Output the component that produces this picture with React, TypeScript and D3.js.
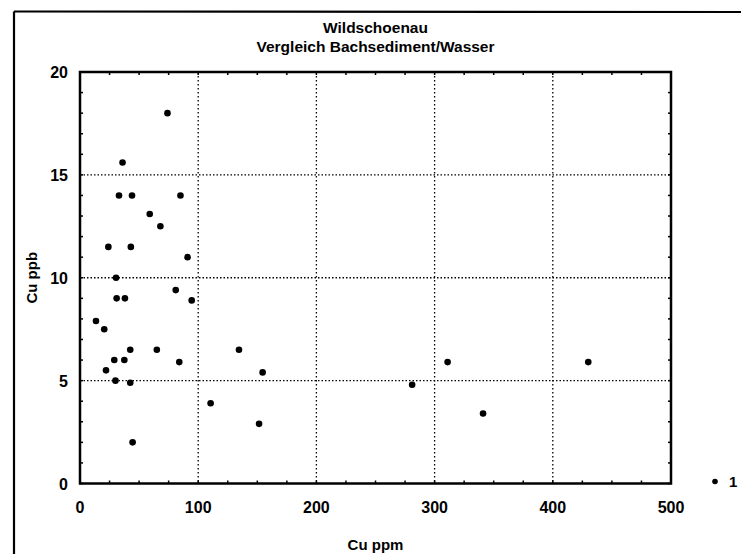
import React, { useEffect } from "react";
import * as d3 from "d3";

const titleLines = ["Wildschoenau", "Vergleich Bachsediment/Wasser"];
const xLabel = "Cu ppm";
const yLabel = "Cu ppb";
const legendLabel = "1";

const cuPpm = [74, 36, 33, 44, 85, 59, 68, 24, 43, 91, 30.5, 81, 31, 38, 94.5, 13.5, 20.5, 42.5, 65, 29, 37.5, 84, 22, 30, 42.5, 110.5, 44.5, 134.5, 154.5, 151.5, 281, 311, 341, 430];
const cuPpb = [18, 15.6, 14, 14, 14, 13.1, 12.5, 11.5, 11.5, 11, 10, 9.4, 9, 9, 8.9, 7.9, 7.5, 6.5, 6.5, 6, 6, 5.9, 5.5, 5, 4.9, 3.9, 2, 6.5, 5.4, 2.9, 4.8, 5.9, 3.4, 5.9];

const xTicks = [0, 100, 200, 300, 400, 500];
const yTicks = [0, 5, 10, 15, 20];
const xGrid = [100, 200, 300, 400];
const yGrid = [5, 10, 15];

const W = 741;
const H = 554;
const L = 80, R = 671, T = 72, B = 483.5;

export default function App() {
  useEffect(() => {
    document.body.style.margin = "0";
    document.body.style.overflow = "hidden";
  }, []);

  const x = d3.scaleLinear().domain([0, 500]).range([L, R]);
  const y = d3.scaleLinear().domain([0, 20]).range([B, T]);
  const xMinor = d3.range(0, 501, 25);
  const yMinor = d3.range(0, 21, 1);
  const font = "'Liberation Sans', Arial, sans-serif";
  const tick = 3;

  return (
    <svg width={W} height={H} style={{ position: "absolute", left: 0, top: 0, background: "#fff" }} fontFamily={font}>
      <rect x={0} y={0} width={W} height={H} fill="#fff" />
      {/* outer frame */}
      <line x1={14} y1={11.5} x2={W} y2={12} stroke="#000" strokeWidth={2.2} />
      <line x1={14} y1={11.5} x2={14} y2={H} stroke="#000" strokeWidth={2.2} />

      {/* title */}
      {titleLines.map((t, i) => (
        <text key={t} x={(L + R) / 2} y={33 + i * 19} textAnchor="middle" fontSize={15.5} fontWeight="bold">{t}</text>
      ))}

      {/* grid */}
      {xGrid.map((v) => (
        <line key={"gx" + v} x1={x(v)} x2={x(v)} y1={T} y2={B} stroke="#000" strokeWidth={1.3} strokeDasharray="1.5,2.5" />
      ))}
      {yGrid.map((v) => (
        <line key={"gy" + v} x1={L} x2={R} y1={y(v)} y2={y(v)} stroke="#000" strokeWidth={1.3} strokeDasharray="1.5,2" />
      ))}

      {/* minor ticks */}
      {xMinor.map((v) => (
        <g key={"tx" + v}>
          <line x1={x(v)} x2={x(v)} y1={T} y2={T + tick} stroke="#000" strokeWidth={1.5} />
          <line x1={x(v)} x2={x(v)} y1={B} y2={B - tick} stroke="#000" strokeWidth={1.5} />
        </g>
      ))}
      {yMinor.map((v) => (
        <g key={"ty" + v}>
          <line x1={L} x2={L + tick} y1={y(v)} y2={y(v)} stroke="#000" strokeWidth={1.5} />
          <line x1={R} x2={R - tick} y1={y(v)} y2={y(v)} stroke="#000" strokeWidth={1.5} />
        </g>
      ))}

      {/* plot box */}
      <rect x={L} y={T} width={R - L} height={B - T} fill="none" stroke="#000" strokeWidth={2.5} />

      {/* tick labels */}
      {xTicks.map((v) => (
        <text key={"lx" + v} x={x(v)} y={513} textAnchor="middle" fontSize={16} fontWeight="bold">{v}</text>
      ))}
      {yTicks.map((v) => (
        <text key={"ly" + v} x={68} y={y(v) + 6} textAnchor="end" fontSize={16} fontWeight="bold">{v}</text>
      ))}

      {/* axis labels */}
      <text x={(L + R) / 2} y={550} textAnchor="middle" fontSize={15} fontWeight="bold">{xLabel}</text>
      <text transform={`translate(37,${(T + B) / 2}) rotate(-90)`} textAnchor="middle" fontSize={15} fontWeight="bold">{yLabel}</text>

      {/* points */}
      {cuPpm.map((v, i) => (
        <circle key={"p" + i} cx={x(v)} cy={y(cuPpb[i])} r={3.3} fill="#000" />
      ))}

      {/* legend */}
      <circle cx={715} cy={481.5} r={2.8} fill="#000" />
      <text x={729} y={487} fontSize={15} fontWeight="bold">{legendLabel}</text>
    </svg>
  );
}
